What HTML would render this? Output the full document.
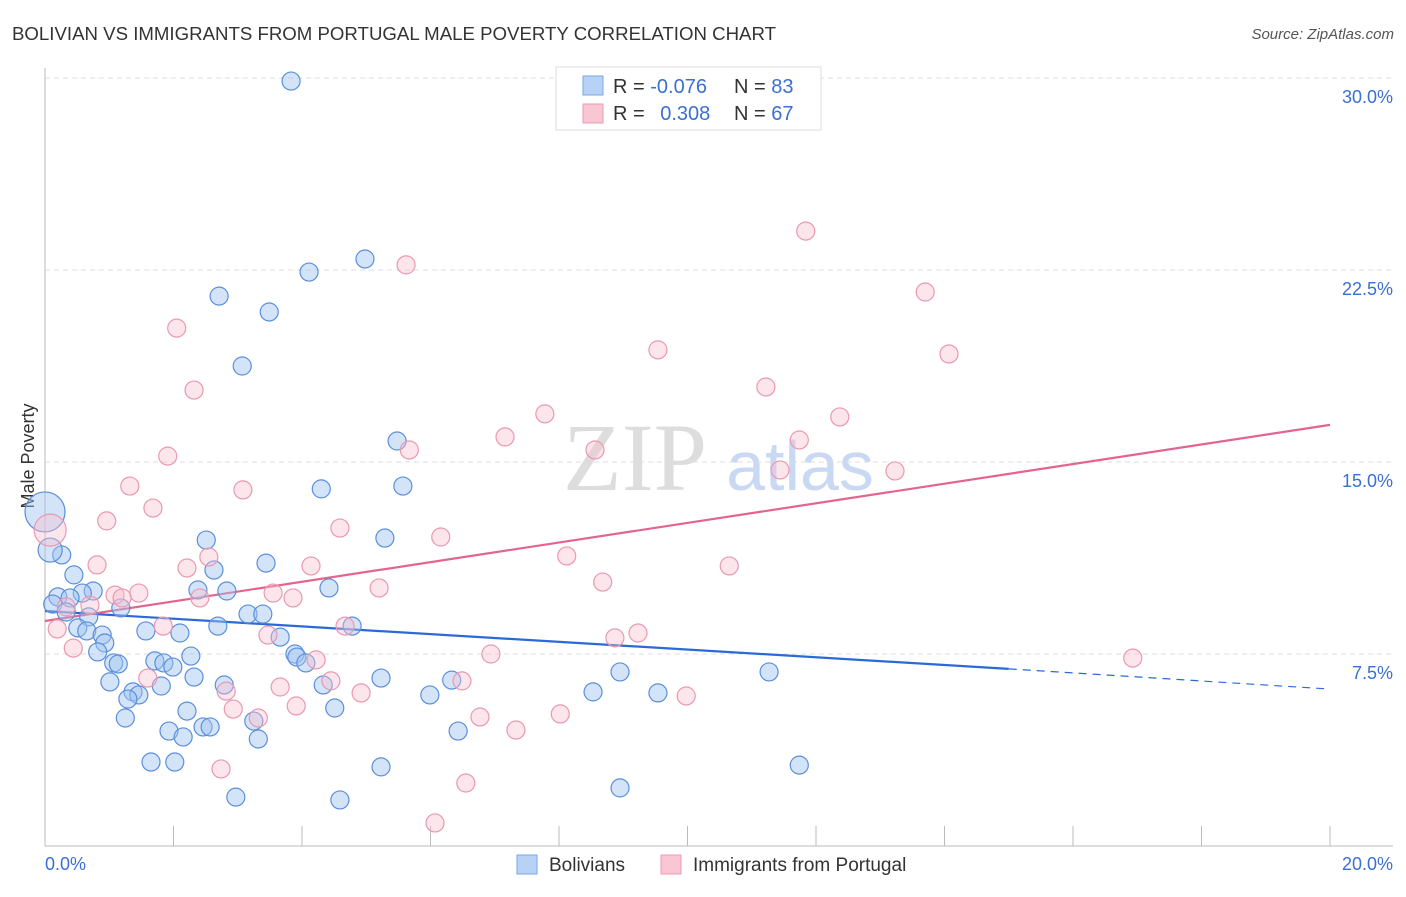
<!DOCTYPE html>
<html><head><meta charset="utf-8"><style>
body{margin:0;background:#fff;font-family:"Liberation Sans",sans-serif}
</style></head><body>
<svg id="chart" width="1406" height="892" xmlns="http://www.w3.org/2000/svg" font-family="Liberation Sans, sans-serif">
<text x="12" y="40" font-size="18" fill="#333" textLength="764" lengthAdjust="spacingAndGlyphs">BOLIVIAN VS IMMIGRANTS FROM PORTUGAL MALE POVERTY CORRELATION CHART</text>
<text x="1394" y="39" font-size="15" fill="#555" font-style="italic" text-anchor="end">Source: ZipAtlas.com</text>
<text transform="translate(34,456) rotate(-90)" font-size="18" fill="#333" text-anchor="middle">Male Poverty</text>
<g>
<text x="635" y="490" font-size="96" font-family="Liberation Serif, serif" fill="#ddd" text-anchor="middle">ZIP</text>
<text x="800" y="490" font-size="70" fill="#c9d9f3" text-anchor="middle">atlas</text>
</g>
<g id="grid"></g><g id="axes"></g><g id="lines"></g><g id="pts"></g>
<g>
<rect x="556" y="67" width="265" height="63" fill="#fff" stroke="#ddd"/>
<rect x="583" y="76" width="20" height="19" fill="#b8d2f5" stroke="#7aa6e6"/>
<rect x="583" y="104" width="20" height="19" fill="#f9c6d4" stroke="#ec9ab2"/>
<text x="613" y="93" font-size="20" fill="#333">R = <tspan fill="#3b6fd4">-0.076</tspan></text>
<text x="734" y="93" font-size="20" fill="#333">N = <tspan fill="#3b6fd4">83</tspan></text>
<text x="613" y="120" font-size="20" fill="#333">R = <tspan fill="#3b6fd4" dx="10">0.308</tspan></text>
<text x="734" y="120" font-size="20" fill="#333">N = <tspan fill="#3b6fd4">67</tspan></text>
</g>
<g>
<rect x="517" y="855" width="20" height="19" fill="#b8d2f5" stroke="#7aa6e6"/>
<text x="549" y="871" font-size="19" fill="#333">Bolivians</text></g>
<g>
<rect x="661" y="855" width="20" height="19" fill="#f9c6d4" stroke="#ec9ab2"/>
<text x="693" y="871" font-size="19" fill="#333">Immigrants from Portugal</text></g>
</svg>
<script>
const yTicks=[7.5,15,22.5,30];
const yTickLabels=["7.5%","15.0%","22.5%","30.0%"];
const xTicks=[0,2,4,6,8,10,12,14,16,18,20];
const blueX=[3.83,4.98,4.11,2.71,3.49,3.07,5.48,4.30,5.57,2.51,5.29,3.44,2.63,0.26,0.45,0.75,0.58,0.20,0.39,0.12,0.33,0.68,1.18,2.38,2.83,4.42,3.16,3.39,0.51,0.65,0.89,0.93,1.57,2.10,2.69,3.66,4.78,0.82,1.07,1.14,1.71,1.85,1.99,2.27,3.89,3.92,4.06,1.01,2.32,2.79,1.81,1.37,1.46,1.29,2.21,1.25,4.33,5.23,6.33,5.99,4.51,8.53,9.54,8.95,11.27,3.25,2.46,2.57,1.93,2.15,3.32,6.43,1.65,2.02,5.23,11.74,2.97,4.59,8.95,0.0,0.08];
const blueY=[29.88,22.93,22.42,21.48,20.86,18.75,15.82,13.95,14.06,11.95,12.03,11.05,10.78,11.37,10.59,9.96,9.88,9.73,9.69,9.45,9.14,8.95,9.30,10.0,9.96,10.08,9.06,9.06,8.52,8.40,8.24,7.93,8.40,8.32,8.59,8.16,8.59,7.58,7.15,7.11,7.23,7.15,6.99,7.42,7.5,7.38,7.15,6.41,6.60,6.29,6.25,6.02,5.90,5.74,5.27,5.0,6.29,6.56,6.48,5.90,5.39,6.02,5.98,6.80,6.80,4.88,4.65,4.65,4.49,4.26,4.18,4.49,3.28,3.28,3.09,3.16,1.91,1.80,2.27,13.05,11.56];
const blueSize=[];blueX.forEach((v,i)=>blueSize.push(i===79?20:(i===80?12:9)));
const pinkX=[11.84,5.62,13.70,2.05,9.54,14.07,2.32,11.22,7.78,12.37,7.16,11.74,5.67,1.91,8.56,11.44,13.23,1.32,3.08,1.68,0.96,4.59,6.16,2.55,8.12,0.81,2.21,4.14,10.65,8.68,5.20,1.09,1.46,1.20,2.41,3.55,3.86,0.70,0.33,1.84,4.67,3.47,8.87,9.23,0.19,0.44,4.22,6.94,16.93,1.60,4.45,6.49,2.82,3.66,4.92,9.98,2.93,3.91,3.32,6.77,8.02,7.33,2.74,6.55,6.07,0.08];
const pinkY=[24.02,22.70,21.64,20.23,19.38,19.22,17.81,17.93,16.88,16.76,15.98,15.86,15.47,15.23,15.47,14.69,14.65,14.06,13.91,13.20,12.70,12.42,12.07,11.29,11.33,10.98,10.86,10.94,10.94,10.31,10.08,9.80,9.88,9.69,9.69,9.88,9.69,9.41,9.34,8.59,8.59,8.24,8.13,8.32,8.48,7.73,7.27,7.5,7.34,6.56,6.45,6.45,6.05,6.21,5.98,5.86,5.35,5.47,5.0,5.04,5.16,4.53,3.01,2.46,0.90,12.34];
const blueTrend=[[0,9.18],[15.0,6.92],[20,6.13]];
const pinkTrend=[[0,8.79],[20,16.45]];
const X=v=>45+v*64.25, Y=v=>846-v*25.6;
const NS="http://www.w3.org/2000/svg";
function mk(t,a,p){const e=document.createElementNS(NS,t);for(const k in a)e.setAttribute(k,a[k]);document.getElementById(p).appendChild(e);return e;}
yTicks.forEach((t,i)=>{
 const g=mk('line',{x1:45,x2:1393,y1:Y(t),y2:Y(t),stroke:'#ddd','stroke-dasharray':'5,4'},'grid');
 
 
 const l=mk('text',{x:1393,y:Y(t)+25,'font-size':18,fill:'#3b6fd4','text-anchor':'end'},'grid');
 l.textContent=yTickLabels[i];
 
 
});
const ax=mk('line',{x1:45,x2:45,y1:68,y2:846,stroke:'#bbb'},'axes');


const bx=mk('line',{x1:45,x2:1393,y1:846,y2:846,stroke:'#bbb'},'axes');


xTicks.forEach(t=>{const e=mk('line',{x1:X(t),x2:X(t),y1:826,y2:846,stroke:'#bbb'},'axes');
 
 });
const l0=mk('text',{x:45,y:870,'font-size':18,fill:'#3b6fd4'},'axes');l0.textContent='0.0%';


const l1=mk('text',{x:1393,y:870,'font-size':18,fill:'#3b6fd4','text-anchor':'end'},'axes');l1.textContent='20.0%';


blueX.forEach((v,i)=>{const c=mk('circle',{cx:X(v),cy:Y(blueY[i]),r:blueSize[i],fill:'rgba(160,196,240,0.45)',stroke:'#5a8fdc','stroke-width':1.2},'pts');
 
 });
pinkX.forEach((v,i)=>{const c=mk('circle',{cx:X(v),cy:Y(pinkY[i]),r:i===65?16:9,fill:'rgba(248,190,206,0.4)',stroke:'#ea98b0','stroke-width':1.2},'pts');
 
 });
const b1=mk('line',{x1:X(blueTrend[0][0]),y1:Y(blueTrend[0][1]),x2:X(blueTrend[1][0]),y2:Y(blueTrend[1][1]),stroke:'#2a6ad6','stroke-width':2.2},'lines');


const b2=mk('line',{x1:X(blueTrend[1][0]),y1:Y(blueTrend[1][1]),x2:X(blueTrend[2][0]),y2:Y(blueTrend[2][1]),stroke:'#2a6ad6','stroke-width':1.2,'stroke-dasharray':'8,6'},'lines');


const p1=mk('line',{x1:X(pinkTrend[0][0]),y1:Y(pinkTrend[0][1]),x2:X(pinkTrend[1][0]),y2:Y(pinkTrend[1][1]),stroke:'#e4648e','stroke-width':2.2},'lines');


</script>
</body></html>
